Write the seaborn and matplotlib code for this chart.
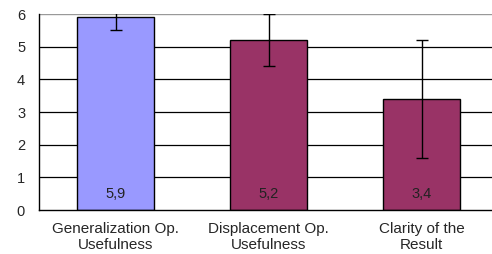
import pandas as pd
import matplotlib.pyplot as plt
import seaborn as sns

categorias = ['Generalization Op.\nUsefulness', 'Displacement Op.\nUsefulness', 'Clarity of the\nResult']
medias = [5.9, 5.2, 3.4]
errores = [0.4, 0.8, 1.8]
etiquetas = ['5,9', '5,2', '3,4']
colores = ['#9999FF', '#993366', '#993366']

sns.set_style('white')
plt.rcParams['font.family'] = ['Liberation Sans', 'DejaVu Sans']

df = pd.DataFrame({'cat': categorias, 'media': medias})

fig = plt.figure(figsize=(4.92, 2.54), dpi=100)
ax = fig.add_axes([39 / 492, 44 / 254, 459 / 492, 196 / 254])

sns.barplot(data=df, x='cat', y='media', hue='cat', palette=colores, legend=False,
            width=0.5, edgecolor='black', linewidth=1.0, saturation=1, ax=ax, zorder=2)
ax.errorbar(range(len(medias)), medias, yerr=errores, fmt='none', ecolor='black',
            elinewidth=1.0, capsize=4.3, capthick=1.0, zorder=3)

for i, t in enumerate(etiquetas):
    ax.text(i, 0.48, t, ha='center', va='center', fontsize=10.5, color='#222222', zorder=4)

ax.set_ylim(0, 6)
ax.set_xlim(-0.5, 2.5)
ax.set_yticks(range(7))
for v in range(1, 6):
    ax.axhline(v, color='black', linewidth=0.9, zorder=1)
ax.axhline(6, color='#999999', linewidth=1.0, zorder=1)

for s in ['top', 'right']:
    ax.spines[s].set_visible(False)
ax.spines['left'].set_color('black')
ax.spines['bottom'].set_color('black')
ax.spines['left'].set_linewidth(1.0)
ax.spines['bottom'].set_linewidth(1.0)

ax.set_xticks([-0.5, 0.5, 1.5, 2.5])
ax.set_xticklabels([])
ax.set_xticks([0, 1, 2], minor=True)
ax.set_xticklabels(categorias, minor=True, fontsize=11, linespacing=1.1)
ax.tick_params(axis='x', which='major', direction='out', length=4, width=1, color='black')
ax.tick_params(axis='x', which='minor', length=0, pad=9)
ax.tick_params(axis='y', direction='out', length=4, width=1, color='black', labelsize=10.5, pad=6)
ax.set_xlabel('')
ax.set_ylabel('')

fig.savefig('out.png', dpi=100)
